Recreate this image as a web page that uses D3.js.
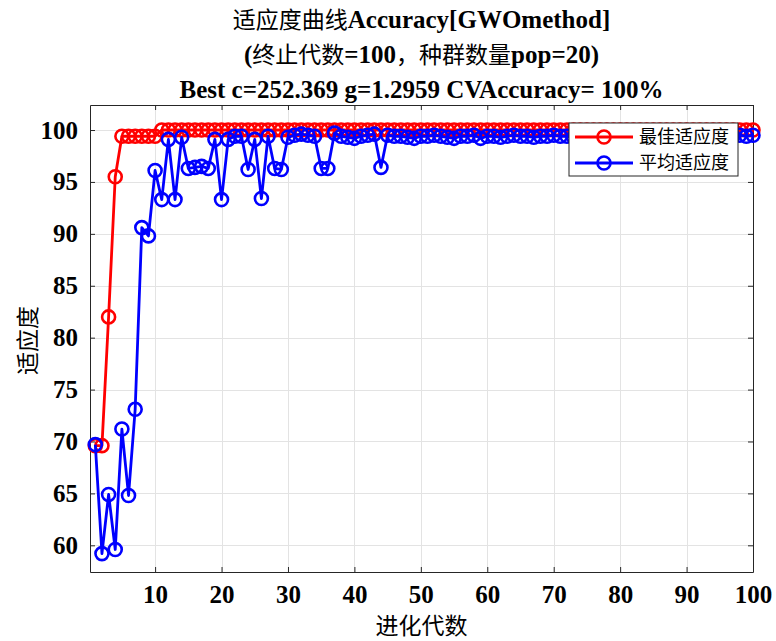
<!DOCTYPE html>
<html><head><meta charset="utf-8">
<script src="https://cdn.jsdelivr.net/npm/d3@7"></script>
<style>html,body{margin:0;padding:0;background:#fff;}svg{display:block;}</style>
</head><body>
<script>
// ---- data ----
const generations = d3.range(1, 101);
const bestFitness = [
  69.6, 69.6, 82.0, 95.5, 99.4, 99.4, 99.4, 99.4, 99.4, 99.4,
  100, 100, 100, 100, 100, 100, 100, 100, 100, 100,
  100, 100, 100, 100, 100, 100, 100, 100, 100, 100,
  100, 100, 100, 100, 100, 100, 100, 100, 100, 100,
  100, 100, 100, 100, 100, 100, 100, 100, 100, 100,
  100, 100, 100, 100, 100, 100, 100, 100, 100, 100,
  100, 100, 100, 100, 100, 100, 100, 100, 100, 100,
  100, 100, 100, 100, 100, 100, 100, 100, 100, 100,
  100, 100, 100, 100, 100, 100, 100, 100, 100, 100,
  100, 100, 100, 100, 100, 100, 100, 100, 100, 100
];
const meanFitness = [
  69.7, 59.2, 64.9, 59.6, 71.2, 64.8, 73.1, 90.6, 89.8, 96.1,
  93.3, 99.1, 93.3, 99.3, 96.3, 96.4, 96.5, 96.3, 99.1, 93.3,
  99.1, 99.4, 99.4, 96.2, 99.1, 93.4, 99.4, 96.3, 96.2, 99.3,
  99.5, 99.6, 99.5, 99.4, 96.3, 96.3, 99.7, 99.4, 99.3, 99.2,
  99.4, 99.5, 99.6, 96.4, 99.5, 99.4, 99.4, 99.3, 99.2, 99.4,
  99.4, 99.5, 99.4, 99.3, 99.2, 99.4, 99.4, 99.5, 99.2, 99.4,
  99.4, 99.3, 99.4, 99.5, 99.4, 99.4, 99.3, 99.4, 99.4, 99.5,
  99.4, 99.4, 99.3, 99.4, 99.4, 99.5, 99.4, 99.4, 99.4, 99.3,
  99.4, 99.4, 99.5, 99.4, 99.4, 99.4, 99.3, 99.4, 99.4, 99.4,
  99.5, 99.4, 99.4, 99.4, 99.3, 99.4, 99.4, 99.5, 99.4, 99.5
];
const xTicks = [10, 20, 30, 40, 50, 60, 70, 80, 90, 100];
const yTicks = [60, 65, 70, 75, 80, 85, 90, 95, 100];
const seriesNames = ["最佳适应度", "平均适应度"];
const seriesColors = ["#ff0000", "#0000ff"];
const titleLines = [
  [["适应度曲线", "cjk"], ["Accuracy[GWOmethod]", "lat"]],
  [["(", "lat"], ["终止代数", "cjk"], ["=100", "lat"], ["，种群数量", "cjk"], ["pop=20)", "lat"]],
  [["Best c=252.369 g=1.2959 CVAccuracy= 100%", "lat"]]
];
const xLabel = "进化代数";
const yLabel = "适应度";

// ---- layout ----
const W = 776, H = 641;
const L = 90, R = 753, T = 105, B = 572;
const latFont = "Liberation Serif, Times New Roman, serif";
const cjkFont = "Noto Sans CJK SC, Noto Sans CJK JP, sans-serif";
const axisColor = "#262626";

const svg = d3.select("body").append("svg").attr("width", W).attr("height", H);

const x = d3.scaleLinear().domain([0.2, 100]).range([L, R]);
const y = d3.scaleLinear().domain([57.43, 102.41]).range([B, T]);

svg.append("rect").attr("x", L).attr("y", T).attr("width", R - L).attr("height", B - T).attr("fill", "#fff");

// grid
const grid = svg.append("g").attr("stroke", "#e3e3e3").attr("stroke-width", 1);
grid.selectAll("line.gx").data(xTicks).join("line")
  .attr("x1", d => Math.round(x(d)) + 0.5).attr("x2", d => Math.round(x(d)) + 0.5)
  .attr("y1", T).attr("y2", B);
grid.selectAll("line.gy").data(yTicks).join("line")
  .attr("x1", L).attr("x2", R)
  .attr("y1", d => Math.round(y(d)) + 0.5).attr("y2", d => Math.round(y(d)) + 0.5);

// axes
const xAxisB = d3.axisBottom(x).tickValues(xTicks).tickSizeInner(-5).tickSizeOuter(0).tickPadding(13);
const gxb = svg.append("g").attr("transform", `translate(0,${B})`).call(xAxisB);
const xAxisT = d3.axisTop(x).tickValues(xTicks).tickSizeInner(-5).tickSizeOuter(0).tickFormat("");
const gxt = svg.append("g").attr("transform", `translate(0,${T})`).call(xAxisT);
const yAxisL = d3.axisLeft(y).tickValues(yTicks).tickSizeInner(-5).tickSizeOuter(0).tickPadding(12);
const gyl = svg.append("g").attr("transform", `translate(${L},0)`).call(yAxisL);
const yAxisR = d3.axisRight(y).tickValues(yTicks).tickSizeInner(-5).tickSizeOuter(0).tickFormat("");
const gyr = svg.append("g").attr("transform", `translate(${R},0)`).call(yAxisR);
[gxb, gxt, gyl, gyr].forEach(g => {
  g.attr("font-family", latFont).attr("font-size", 25).attr("font-weight", "bold");
  g.select(".domain").attr("stroke", axisColor).attr("stroke-width", 1);
  g.selectAll(".tick line").attr("stroke", axisColor);
  g.selectAll(".tick text").attr("fill", "#000");
});
gxb.selectAll(".tick text").attr("dy", "0.71em");

// series
const lineGen = d3.line().x((d, i) => x(generations[i])).y(d => y(d));
[bestFitness, meanFitness].forEach((vals, si) => {
  const g = svg.append("g");
  g.append("path").datum(vals).attr("d", lineGen)
    .attr("fill", "none").attr("stroke", seriesColors[si]).attr("stroke-width", 2.8)
    .attr("stroke-linejoin", "round");
  g.selectAll("circle").data(vals).join("circle")
    .attr("cx", (d, i) => x(generations[i])).attr("cy", d => y(d)).attr("r", 6.5)
    .attr("fill", "none").attr("stroke", seriesColors[si]).attr("stroke-width", 2.6);
});

// legend
const lg = svg.append("g").attr("transform", "translate(569,123)");
lg.append("rect").attr("width", 169).attr("height", 53).attr("fill", "#fff")
  .attr("stroke", axisColor).attr("stroke-width", 1);
seriesNames.forEach((name, i) => {
  const yy = 14 + i * 26;
  lg.append("line").attr("x1", 6).attr("x2", 64).attr("y1", yy).attr("y2", yy)
    .attr("stroke", seriesColors[i]).attr("stroke-width", 2.8);
  lg.append("circle").attr("cx", 35).attr("cy", yy).attr("r", 6.5)
    .attr("fill", "none").attr("stroke", seriesColors[i]).attr("stroke-width", 2.6);
  lg.append("text").attr("x", 70).attr("y", yy).attr("dy", "0.36em")
    .attr("font-family", cjkFont).attr("font-size", 18).attr("fill", "#000").text(name);
});

// titles
const titleY = [28, 63, 98];
titleLines.forEach((parts, li) => {
  const t = svg.append("text").attr("x", (L + R) / 2).attr("y", titleY[li])
    .attr("text-anchor", "middle").attr("fill", "#000");
  parts.forEach(([txt, kind]) => {
    t.append("tspan").text(txt)
      .attr("font-family", kind === "cjk" ? cjkFont : latFont)
      .attr("font-weight", kind === "cjk" ? "normal" : "bold")
      .attr("font-size", kind === "cjk" ? 23 : 25);
  });
});

// axis labels
svg.append("text").attr("x", (L + R) / 2).attr("y", 634).attr("text-anchor", "middle")
  .attr("font-family", cjkFont).attr("font-size", 23).attr("fill", "#000").text(xLabel);
svg.append("text").attr("transform", `translate(36,${(T + B) / 2 + 2}) rotate(-90)`)
  .attr("text-anchor", "middle").attr("font-family", cjkFont).attr("font-size", 23)
  .attr("fill", "#000").text(yLabel);
</script>
</body></html>
